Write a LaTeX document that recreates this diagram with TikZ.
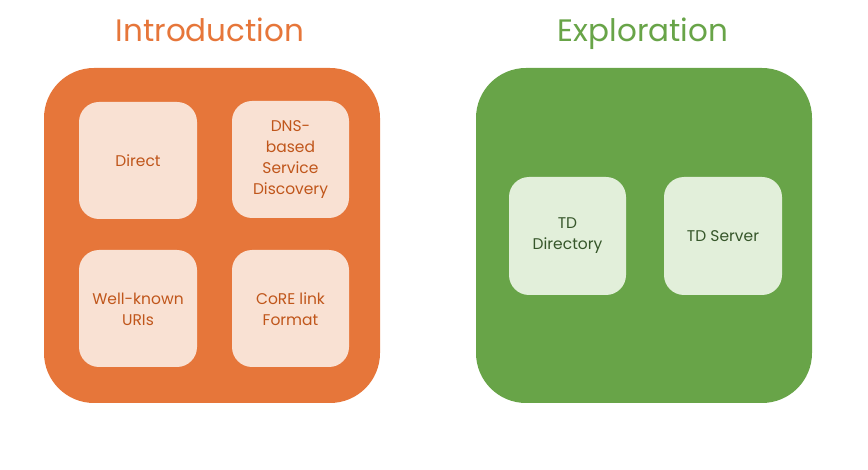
\documentclass[tikz,border=0pt]{standalone}
\usepackage{fontspec}
\setmainfont{Poppins}
\definecolor{orbig}{HTML}{E6763A}
\definecolor{orlight}{HTML}{F9E1D3}
\definecolor{ortext}{HTML}{C0561B}
\definecolor{grbig}{HTML}{68A448}
\definecolor{grlight}{HTML}{E2EFDA}
\definecolor{grtext}{HTML}{36562A}
\begin{document}
\begin{tikzpicture}[x=1pt,y=-1pt,
  bigbox/.style={rounded corners=50pt},
  smallbox/.style={rounded corners=20pt},
  boxtext/.style={align=center,font=\fontsize{15.5}{21}\selectfont},
  titletext/.style={anchor=base,font=\fontsize{31}{38}\selectfont}]
\useasboundingbox (0,0) rectangle (868,470);
% Introduction
\node[titletext,text=orbig] (tintro) at (210,42) {Introduction};
\fill[orbig,bigbox] (44,68) rectangle (380,403);
\fill[orlight,smallbox] (79,102) rectangle (197,219);
\fill[orlight,smallbox] (232,101) rectangle (349,218);
\fill[orlight,smallbox] (79,250) rectangle (197,367);
\fill[orlight,smallbox] (232,250) rectangle (349,367);
\node[boxtext,text=ortext] (direct) at (138,161) {Direct};
\node[boxtext,text=ortext] (dns) at (290.5,160) {DNS-\\based\\Service\\Discovery};
\node[boxtext,text=ortext] (wk) at (138,309) {Well-known\\URIs};
\node[boxtext,text=ortext] (core) at (290.5,309) {CoRE link\\Format};
% Exploration
\node[titletext,text=grbig] (texpl) at (643,42) {Exploration};
\fill[grbig,bigbox] (476,68) rectangle (812,403);
\fill[grlight,smallbox] (509,177) rectangle (626,295);
\fill[grlight,smallbox] (664,177) rectangle (782,295);
\node[boxtext,text=grtext] (tddir) at (567.5,236) {TD\\Directory};
\node[boxtext,text=grtext] (tdsrv) at (723,236) {TD Server};
\end{tikzpicture}
\end{document}
